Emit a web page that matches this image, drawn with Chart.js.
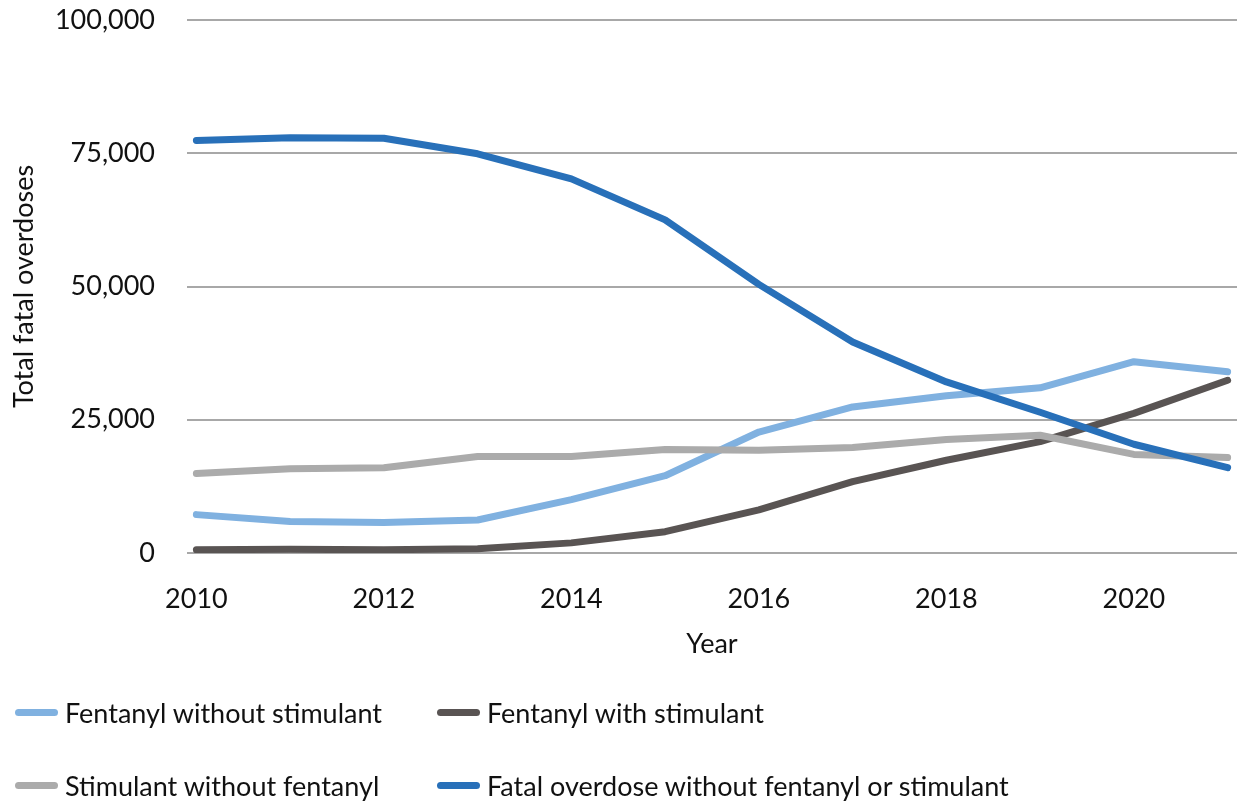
<!DOCTYPE html>
<html>
<head>
<meta charset="utf-8">
<script src="https://cdn.jsdelivr.net/npm/chart.js@4"></script>
<style>
  body { margin: 0; background: #fff; font-family: Lato, sans-serif; }
  #wrap { position: relative; width: 1237px; height: 801px; }
  #legend { position: absolute; left: 15px; top: 696px; display: grid;
            grid-template-columns: 422px 600px; row-gap: 40px; }
  .item { display: flex; align-items: center; font-size: 27px; color: #111; height: 33px; white-space: nowrap; }
  .swatch { width: 43px; height: 7px; border-radius: 3.5px; margin-right: 7px; }
</style>
</head>
<body>
<div id="wrap">
  <canvas id="chart" width="1237" height="801"></canvas>
  <div id="legend"></div>
</div>
<script>
// data
let years = [2010, 2011, 2012, 2013, 2014, 2015, 2016, 2017, 2018, 2019, 2020, 2021];
let fentanylNoStim = [7200, 5900, 5700, 6200, 10000, 14500, 22700, 27400, 29500, 31000, 35900, 34000];
let fentanylWithStim = [600, 700, 600, 800, 1900, 4000, 8100, 13400, 17400, 20900, 26200, 32400];
let stimNoFentanyl = [14900, 15800, 16000, 18100, 18100, 19400, 19300, 19800, 21300, 22100, 18500, 17900];
let neither = [77400, 77900, 77800, 74900, 70200, 62500, 50400, 39600, 32100, 26400, 20400, 16000];
let xTicks = [2010, 2012, 2014, 2016, 2018, 2020];

let seriesNames = ['Fentanyl without stimulant', 'Fentanyl with stimulant',
                   'Stimulant without fentanyl', 'Fatal overdose without fentanyl or stimulant'];
let seriesColors = ['#80b1e0', '#595453', '#ababab', '#2870b9'];
let seriesData = [fentanylNoStim, fentanylWithStim, stimNoFentanyl, neither];
let drawOrder = [3, 2, 1, 0];

let font = { family: 'Lato', size: 27 };

let datasets = seriesData.map((vals, i) => ({
    label: seriesNames[i],
    data: vals.map((v, j) => ({ x: years[j], y: v })),
    borderColor: seriesColors[i],
    backgroundColor: seriesColors[i],
    borderWidth: 7,
    borderCapStyle: 'round',
    borderJoinStyle: 'round',
    pointRadius: 0,
    tension: 0,
    order: drawOrder[i]
}));

new Chart(document.getElementById('chart'), {
    type: 'line',
    data: { datasets: datasets },
    options: {
        responsive: false,
        animation: false,
        layout: { padding: { top: 20, right: 0, left: 0, bottom: 131 } },
        plugins: { legend: { display: false }, tooltip: { enabled: false } },
        scales: {
            x: {
                type: 'linear',
                min: 2009.9,
                max: 2021.1,
                afterBuildTicks: (scale) => { scale.ticks = xTicks.map(v => ({ value: v })); },
                afterFit: (scale) => { scale.height = 117; },
                grid: { display: false, drawTicks: false },
                border: { display: false },
                ticks: { font: font, color: '#111', padding: 30, callback: (v) => String(v) },
                title: { display: true, text: 'Year', font: font, color: '#111', padding: { top: 4, bottom: 10 } }
            },
            y: {
                min: 0,
                max: 100000,
                afterFit: (scale) => { scale.width = 187; scale.paddingTop = 0; scale.paddingBottom = 0; },
                grid: { color: '#a8a8a8', lineWidth: 2, drawTicks: false },
                border: { display: false },
                ticks: { font: font, color: '#111', padding: 32, stepSize: 25000 },
                title: { display: true, text: 'Total fatal overdoses', font: font, color: '#111', padding: { top: 8, bottom: 0 } }
            }
        }
    }
});

let legend = document.getElementById('legend');
seriesNames.forEach((name, i) => {
    legend.innerHTML += `
    <div class="item"><span class="swatch" style="background:${seriesColors[i]}"></span>${name}</div>`;
});
</script>
</body>
</html>
